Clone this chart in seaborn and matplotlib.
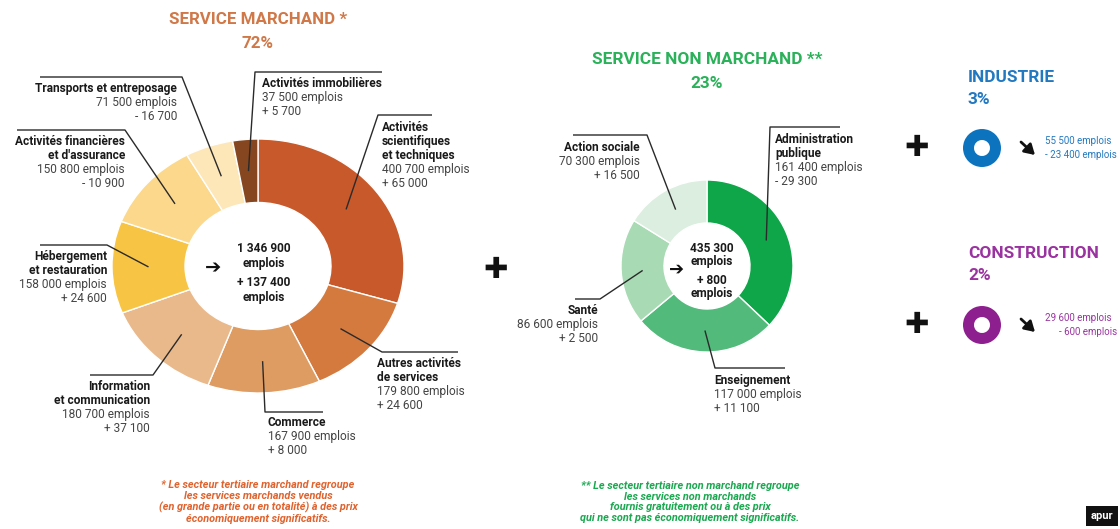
import numpy as np
import matplotlib.pyplot as plt
import seaborn as sns

# Données : emplois par secteur (service marchand)
marchand_labels = [["Activités", "scientifiques", "et techniques"],
                   ["Autres activités", "de services"],
                   ["Commerce"],
                   ["Information", "et communication"],
                   ["Hébergement", "et restauration"],
                   ["Activités financières", "et d'assurance"],
                   ["Transports et entreposage"],
                   ["Activités immobilières"]]
marchand_emplois = [400700, 179800, 167900, 180700, 158000, 150800, 71500, 37500]
marchand_evol = [65000, 24600, 8000, 37100, 24600, -10900, -16700, 5700]
marchand_colors = ["#c8592a", "#d47a3f", "#de9c63", "#e9b98b", "#f8c443",
                   "#fbd88c", "#fde6b8", "#86461f"]

# Service non marchand
non_marchand_labels = [["Administration", "publique"], ["Enseignement"],
                       ["Santé"], ["Action sociale"]]
non_marchand_emplois = [161400, 117000, 86600, 70300]
non_marchand_evol = [-29300, 11100, 2500, 16500]
non_marchand_colors = ["#0fa64a", "#52ba7a", "#a8dab4", "#dbeedf"]

# Industrie et construction
autres_secteurs = ["INDUSTRIE", "CONSTRUCTION"]
autres_emplois = [55500, 29600]
autres_evol = [-23400, -600]
autres_colors = ["#0c74bf", "#8e1f8f"]

W, H = 1120, 529

sns.set_theme(style="white")
plt.rcParams["font.family"] = ["Roboto", "DejaVu Sans"]


def fmt(n):
    return f"{abs(n):,}".replace(",", " ")


def evol(n):
    return ("+ " if n >= 0 else "- ") + fmt(n)


def Y(y):
    return H - y


fig = plt.figure(figsize=(W / 100, H / 100), dpi=100)
total = sum(marchand_emplois) + sum(non_marchand_emplois) + sum(autres_emplois)


def donut(values, colors, cx, cy, rx, ry, hole=0.5, lw=1.0):
    dax = fig.add_axes([(cx - rx) / W, (H - cy - ry) / H, 2 * rx / W, 2 * ry / H])
    wedges, _ = dax.pie(values, colors=colors, startangle=90, counterclock=False,
                        radius=1, wedgeprops=dict(width=1 - hole, edgecolor="white", linewidth=lw))
    dax.set_xlim(-1, 1)
    dax.set_ylim(-1, 1)
    dax.set_aspect("auto")
    dax.axis("off")
    return wedges


w1 = donut(marchand_emplois, marchand_colors, 258, 266, 146, 127)
w2 = donut(non_marchand_emplois, non_marchand_colors, 707, 266, 86, 86)
for e, col, cy in zip(autres_emplois, autres_colors, [148, 325]):
    donut([e], [col], 982, cy, 19, 19, hole=0.42, lw=0)

# calque texte en pixels
ax = fig.add_axes([0, 0, 1, 1])
ax.set_zorder(10)
ax.patch.set_visible(False)


def anchor(wedge, cx, cy, rx, ry, f=0.75):
    th = np.deg2rad((wedge.theta1 + wedge.theta2) / 2)
    return cx + f * rx * np.cos(th), Y(cy - f * ry * np.sin(th))


def label(lines_b, emplois, ev, x, ytop, ha, size=8.6, step=14):
    y = ytop
    for l in lines_b:
        ax.text(x, Y(y), l, ha=ha, va="top", fontsize=size, fontweight="bold", color="#1a1a1a")
        y += step
    for l in [fmt(emplois) + " emplois", evol(ev)]:
        ax.text(x, Y(y), l, ha=ha, va="top", fontsize=size, color="#444444")
        y += step


def leader(a, elbow, end):
    ax.plot([a[0], elbow[0], end[0]], [a[1], Y(elbow[1]), Y(end[1])],
            color="#2a2a2a", lw=1.0, solid_capstyle="butt")


# --- Service marchand ---
m_layout = [  # (text x, top, ha, elbow, end)
    (382, 121, "left", (378, 115), (432, 115)),
    (377, 357, "left", (382, 352), (458, 352)),
    (268, 416, "left", (265, 412), (323, 412)),
    (150, 380, "right", (153, 375), (90, 375)),
    (107, 250, "right", (107, 245), (40, 245)),
    (125, 135, "right", (125, 130), (17, 130)),
    (177, 82, "right", (182, 77), (40, 77)),
    (262, 77, "left", (255, 72), (382, 72)),
]
for wd, lab, e, ev, (tx, ty, ha, elb, end) in zip(w1, marchand_labels, marchand_emplois,
                                                   marchand_evol, m_layout):
    leader(anchor(wd, 258, 266, 146, 127), elb, end)
    label(lab, e, ev, tx, ty, ha)

ax.text(264, Y(256), f"{fmt(sum(marchand_emplois))}\nemplois", ha="center", va="center",
        fontsize=8.6, fontweight="bold", linespacing=1.1, color="#1a1a1a")
ax.text(264, Y(290), f"{evol(sum(marchand_evol))}\nemplois", ha="center", va="center",
        fontsize=8.6, fontweight="bold", linespacing=1.1, color="#1a1a1a")
ax.text(213, Y(268), "\u2794", ha="center", va="center", fontsize=14,
        family=["DejaVu Sans"], color="#111111")

mcol = "#d07848"
ax.text(258, Y(20), "SERVICE MARCHAND *", ha="center", va="center", fontsize=12.2,
        fontweight="bold", color=mcol)
ax.text(258, Y(43), f"{round(100 * sum(marchand_emplois) / total)}%", ha="center",
        va="center", fontsize=12.2, fontweight="bold", color=mcol)

# --- Service non marchand ---
n_layout = [
    (775, 133, "left", (770, 127), (840, 127)),
    (714, 374, "left", (715, 368), (785, 368)),
    (598, 304, "right", (600, 299), (575, 299)),
    (640, 141, "right", (647, 135), (573, 135)),
]
for wd, lab, e, ev, (tx, ty, ha, elb, end) in zip(w2, non_marchand_labels, non_marchand_emplois,
                                                   non_marchand_evol, n_layout):
    leader(anchor(wd, 707, 266, 86, 86), elb, end)
    label(lab, e, ev, tx, ty, ha)

ax.text(712, Y(255), f"{fmt(sum(non_marchand_emplois))}\nemplois", ha="center",
        va="center", fontsize=8.6, fontweight="bold", linespacing=1.1, color="#1a1a1a")
ax.text(712, Y(287), f"{evol(sum(non_marchand_evol))}\nemplois", ha="center",
        va="center", fontsize=8.6, fontweight="bold", linespacing=1.1, color="#1a1a1a")
ax.text(677, Y(270), "\u2794", ha="center", va="center", fontsize=13,
        family=["DejaVu Sans"], color="#111111")

green = "#2bb15a"
ax.text(707, Y(60), "SERVICE NON MARCHAND **", ha="center", va="center", fontsize=12.4,
        fontweight="bold", color=green)
ax.text(707, Y(83), f"{round(100 * sum(non_marchand_emplois) / total)}%", ha="center",
        va="center", fontsize=12.4, fontweight="bold", color=green)

# --- Industrie / Construction ---
title_colors = ["#2379c0", "#9a33a0"]
for nom, e, ev, tcol, cy in zip(autres_secteurs, autres_emplois, autres_evol,
                                title_colors, [148, 325]):
    ax.text(968, Y(cy - 71), nom, ha="left", va="center", fontsize=12.4, fontweight="bold", color=tcol)
    ax.text(968, Y(cy - 49), f"{round(100 * e / total)}%", ha="left", va="center",
            fontsize=12.4, fontweight="bold", color=tcol)
    ax.text(917, Y(cy), "\u271a", ha="center", va="center", fontsize=21,
            family=["DejaVu Sans"], color="#111111")
    ax.annotate("", xy=(1035, Y(cy + 7)), xytext=(1021, Y(cy - 6)),
                arrowprops=dict(arrowstyle="-|>,head_length=0.5,head_width=0.3",
                                lw=2, color="#111111", shrinkA=0, shrinkB=0))
    ax.text(1045, Y(cy - 7), f"{fmt(e)} emplois", ha="left", va="center", fontsize=7, color=tcol)
    ax.text(1117, Y(cy + 7), f"{evol(ev)} emplois", ha="right", va="center", fontsize=7, color=tcol)

ax.text(496, Y(270), "\u271a", ha="center", va="center", fontsize=21,
        family=["DejaVu Sans"], color="#111111")

# --- Notes ---
ax.text(258, Y(502), "* Le secteur tertiaire marchand regroupe\nles services marchands vendus\n"
        "(en grande partie ou en totalité) à des prix\néconomiquement significatifs.",
        ha="center", va="center", fontsize=7.8, style="italic", fontweight="bold",
        linespacing=1.1, color="#e0632e")
ax.text(690, Y(502), "** Le secteur tertiaire non marchand regroupe\nles services non marchands\n"
        "fournis gratuitement ou à des prix\nqui ne sont pas économiquement significatifs.",
        ha="center", va="center", fontsize=7.8, style="italic", fontweight="bold",
        linespacing=1.1, color="#1aa850")

ax.text(1102, Y(516), "apur", ha="center", va="center", fontsize=8, fontweight="bold",
        color="white", bbox=dict(boxstyle="square,pad=0.45", fc="#111111", ec="none"))

ax.set_xlim(0, W)
ax.set_ylim(0, H)
ax.axis("off")
fig.savefig("out.png", dpi=100, facecolor="white")
